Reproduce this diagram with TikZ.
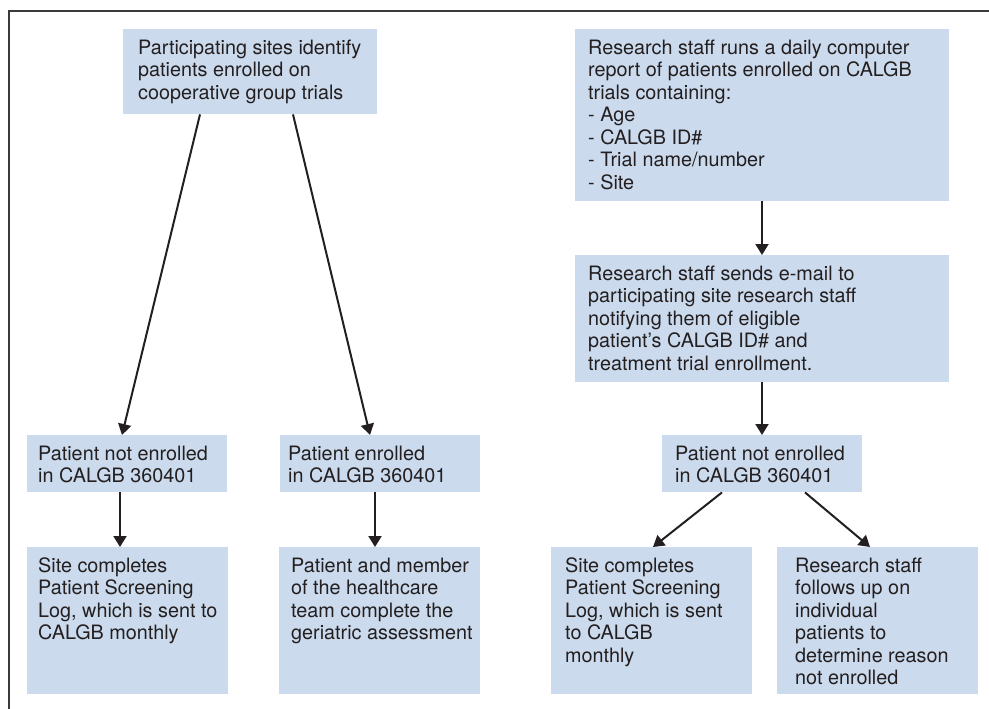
\documentclass[tikz,border=0pt]{standalone}
\usepackage{fontspec}
\setmainfont{TeX Gyre Heros}
\usepackage{tikz}
\usetikzlibrary{arrows.meta}
\definecolor{panelblue}{HTML}{CBDAEC}
\definecolor{inkgray}{HTML}{231F20}
\definecolor{framegray}{HTML}{3A3A3A}
\newcommand{\paneltext}[3]{\parbox[t][#2pt][t]{#1pt}{\begin{tabular}[t]{@{}l@{}}#3\end{tabular}}}

\begin{document}
\begin{tikzpicture}[x=1pt,y=-1pt,font=\fontsize{19.8}{22.5}\selectfont,
  panel/.style={fill=panelblue,text=inkgray,anchor=north west,inner xsep=#1,inner ysep=9.5pt},
  panel/.default=13pt,
  flow/.style={draw=inkgray,line width=2pt,-{Triangle[length=11pt,width=13pt]}}]
  \useasboundingbox (0,0) rectangle (989,709);
  \draw[framegray,line width=1.4pt] (989,11) -- (9,11) -- (9,709);

  % left branch
  \node[panel=15pt] (sites) at (123,29) {\paneltext{224}{66}{Participating sites identify\\patients enrolled on\\cooperative group trials}};
  \node[panel=11pt] (notL) at (27,435) {\paneltext{178}{38}{Patient not enrolled\\in CALGB 360401}};
  \node[panel=8pt] (enr) at (280,435) {\paneltext{184}{38}{Patient enrolled\\in CALGB 360401}};
  \node[panel=11pt] (siteL) at (27,547) {\paneltext{179}{128}{Site completes\\Patient Screening\\Log, which is sent to\\CALGB monthly}};
  \node[panel=12pt] (team) at (279,547) {\paneltext{177}{128}{Patient and member\\of the healthcare\\team complete the\\geriatric assessment}};

  % right branch
  \node[panel] (report) at (575,29) {\paneltext{348}{153}{Research staff runs a daily computer\\report of patients enrolled on CALGB\\trials containing:\\- Age\\- CALGB ID\#\\- Trial name/number\\- Site}};
  \node[panel] (email) at (575,255) {\paneltext{348}{108}{Research staff sends e-mail to\\participating site research staff\\notifying them of eligible\\patient’s CALGB ID\# and\\treatment trial enrollment.}};
  \node[panel] (notR) at (662,435) {\paneltext{174}{38}{Patient not enrolled\\in CALGB 360401}};
  \node[panel=14pt] (siteR) at (551,547) {\paneltext{173}{128}{Site completes\\Patient Screening\\Log, which is sent\\to CALGB\\monthly}};
  \node[panel=18pt] (follow) at (777,547) {\paneltext{165}{128}{Research staff\\follows up on\\individual\\patients to\\determine reason\\not enrolled}};

  \draw[flow] ([xshift=77pt]sites.south west) -- ([xshift=95pt]notL.north west);
  \draw[flow] ([xshift=170pt]sites.south west) -- ([xshift=90pt]enr.north west);
  \draw[flow] ([xshift=93pt]notL.south west) -- ([xshift=93pt]siteL.north west);
  \draw[flow] ([xshift=95pt]enr.south west) -- ([xshift=96pt]team.north west);
  \draw[flow] ([xshift=187pt]report.south west) -- ([xshift=187pt]email.north west);
  \draw[flow] ([xshift=187pt]email.south west) -- ([xshift=100pt]notR.north west);
  \draw[flow] ([xshift=60pt]notR.south west) -- ([xshift=102pt]siteR.north west);
  \draw[flow] ([xshift=143pt]notR.south west) -- ([xshift=93pt]follow.north west);
\end{tikzpicture}
\end{document}
